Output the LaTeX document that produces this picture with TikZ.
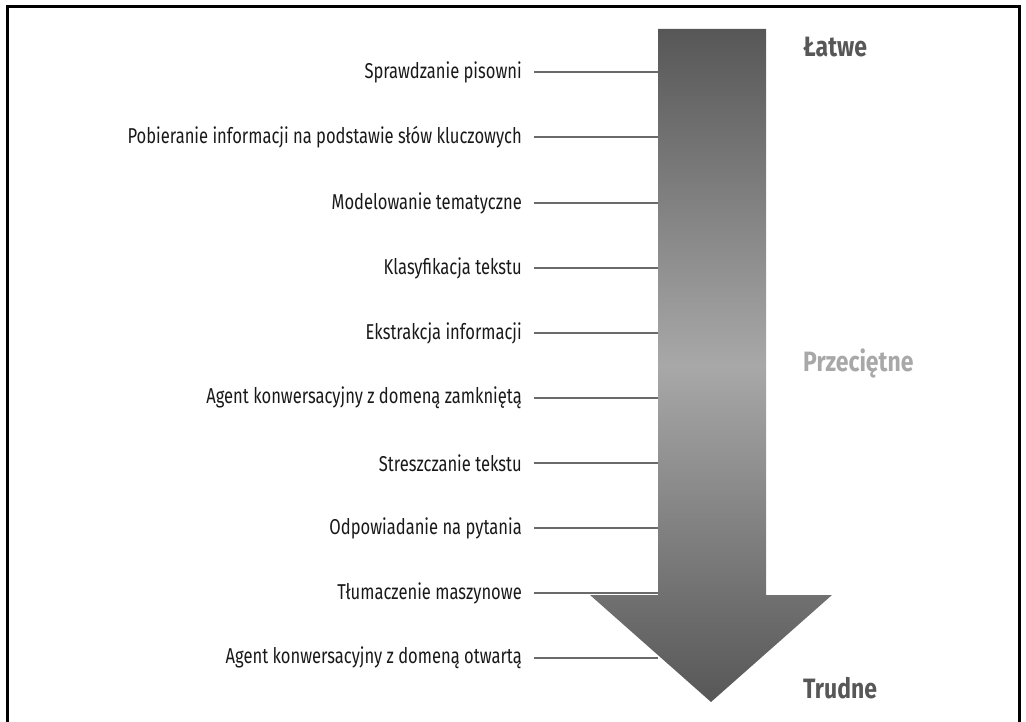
\documentclass[tikz,border=0pt]{standalone}
\usepackage{fontspec}
\setmainfont{Fira Sans}[FakeStretch=0.77]
\newfontfamily\poziomfont{Fira Sans}[FakeStretch=0.82]
\usetikzlibrary{calc}

\definecolor{ciemny}{HTML}{575757}
\definecolor{jasny}{HTML}{A8A8A8}
\definecolor{linia}{HTML}{6A6A6A}

\tikzset{
	zadanie/.style={anchor=east, inner sep=0pt, font=\fontsize{21.5}{25}\selectfont, text=black!90},
	poziom/.style={anchor=west, inner sep=0pt, font=\poziomfont\fontsize{28}{32}\selectfont\bfseries},
	laczenie/.style={draw=linia, line width=2pt}
}

\begin{document}
\begin{tikzpicture}[x=1pt, y=-1pt]
	\useasboundingbox (0,0) rectangle (1026,722);

	% Ramka (bez dolnej krawędzi)
	\draw[line width=3pt] (7,722) -- (7,7) -- (1019,7) -- (1019,722);

	% Strzałka z gradientem
	\coordinate (lewy) at (658,29);
	\shade[top color=ciemny, bottom color=ciemny, middle color=jasny]
		(lewy) -- (766,29) -- (766,595) -- (832,595) -- (711,702)
		-- (590,595) -- (658,595) -- cycle;

	% Zadania po lewej
	\node[zadanie] (t1) at (522,72) {Sprawdzanie pisowni};
	\node[zadanie] (t2) at (522,137) {Pobieranie informacji na podstawie słów kluczowych};
	\node[zadanie] (t3) at (522,203) {Modelowanie tematyczne};
	\node[zadanie] (t4) at (522,268) {Klasyfikacja tekstu};
	\node[zadanie] (t5) at (522,333) {Ekstrakcja informacji};
	\node[zadanie] (t6) at (522,398) {Agent konwersacyjny z domeną zamkniętą};
	\node[zadanie] (t7) at (522,463) {Streszczanie tekstu};
	\node[zadanie] (t8) at (522,528) {Odpowiadanie na pytania};
	\node[zadanie] (t9) at (522,593) {Tłumaczenie maszynowe};
	\node[zadanie] (t10) at (522,658) {Agent konwersacyjny z domeną otwartą};

	% Linie do strzałki
	\foreach \t in {t1,t2,t3,t4,t5,t6,t7,t8,t9,t10}
		\draw[laczenie] ($(\t.east)+(12,0)$) -- (\t.east -| lewy);

	% Poziomy trudności
	\node[poziom, text=ciemny] (latwe) at (803,47) {Łatwe};
	\node[poziom, text=jasny] (srednie) at (803,363) {Przeciętne};
	\node[poziom, text=ciemny] (trudne) at (803,688) {Trudne};
\end{tikzpicture}
\end{document}
